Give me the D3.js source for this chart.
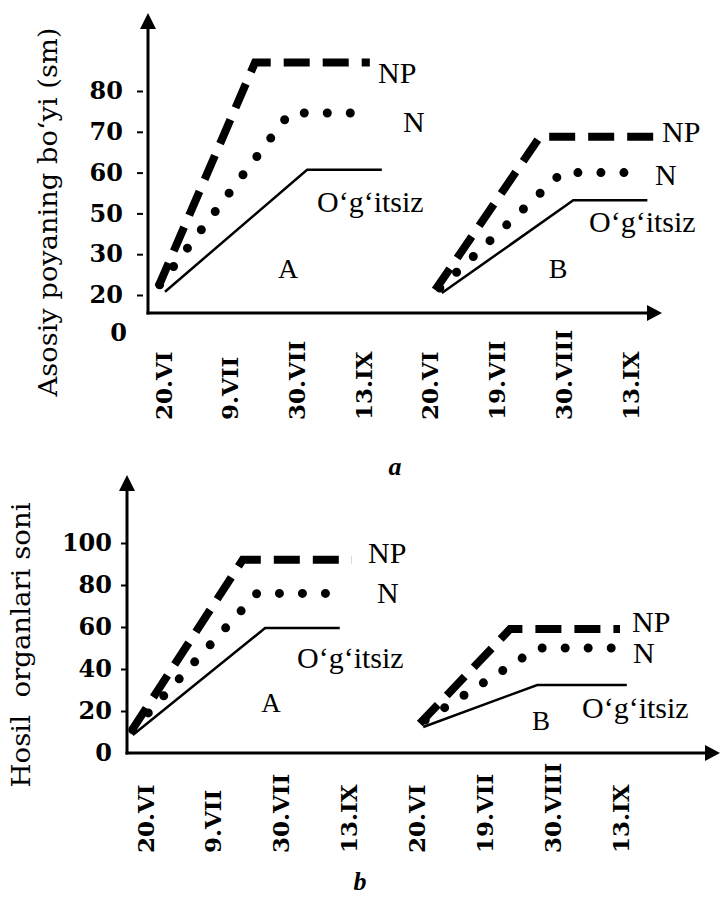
<!DOCTYPE html>
<html>
<head>
<meta charset="utf-8">
<script src="https://cdn.jsdelivr.net/npm/d3@7"></script>
<style>
  body { margin: 0; background: #fff; }
  svg { display: block; }
</style>
</head>
<body>
<div id="chart"></div>
<script>

// dates on the x axis: first four belong to A, last four to B
var datesA = ["20.VI", "9.VII", "30.VII", "13.IX"];
var datesB = ["20.VI", "19.VII", "30.VIII", "13.IX"];

// y tick labels
var heightTicks = [20, 30, 50, 60, 70, 80];
var organTicks = [0, 20, 40, 60, 80, 100];

// a) main stem height (sm); x = position along date axis (0..7)
var heightA_NP = [[-0.07, 22], [1.38, 87], [3.10, 87]];
var heightA_N  = [[-0.05, 22.5], [1.90, 74.6], [3.12, 74.6]];
var heightA_0  = [[0.03, 20.8], [2.16, 60.7], [3.28, 60.7]];
var heightB_NP = [[4.08, 21.2], [5.65, 68.8], [7.35, 68.8]];
var heightB_N  = [[4.15, 21.7], [5.98, 60], [7.18, 60]];
var heightB_0  = [[4.18, 20.5], [6.15, 53.2], [7.26, 53.2]];

// b) number of fruit organs
var organsA_NP = [[-0.19, 11], [1.44, 92], [3.05, 92]];
var organsA_N  = [[-0.18, 11], [1.65, 76], [2.87, 76]];
var organsA_0  = [[-0.18, 8.6], [1.77, 59.5], [2.87, 59.5]];
var organsB_NP = [[4.05, 14], [5.38, 59], [7.00, 59]];
var organsB_N  = [[4.13, 15.7], [5.79, 50], [6.90, 50]];
var organsB_0  = [[4.10, 12.4], [5.78, 32.4], [7.10, 32.4]];

var styleNP = { width: 8, dash: "26,13", cap: "butt" };
var styleN  = { width: 9, dash: "0,23", cap: "round" };
var style0  = { width: 2.5, dash: null, cap: "butt" };

var svg = d3.select("#chart").append("svg")
    .attr("width", 721)
    .attr("height", 898);

var drawPanel = function(p) {

    var g = svg.append("g");
    var x = d3.scaleLinear().domain([0, 7]).range(p.xRange);
    var y = p.y;
    var y0 = y(0);

    var line = d3.line()
        .x(function(d) { return x(d[0]); })
        .y(function(d) { return y(d[1]); });

    /* axis lines with arrows */
    g.append("line")
        .attr("x1", p.axisX).attr("x2", p.axisX)
        .attr("y1", y0 + 1.5).attr("y2", p.arrowTop + 10)
        .attr("stroke", "#000").attr("stroke-width", 3);
    g.append("path")
        .attr("d", "M" + p.axisX + "," + p.arrowTop + " l-8,16 l16,0 z")
        .attr("fill", "#000");
    g.append("line")
        .attr("x1", p.axisX - 1.5).attr("x2", p.arrowRight - 10)
        .attr("y1", y0).attr("y2", y0)
        .attr("stroke", "#000").attr("stroke-width", 3);
    g.append("path")
        .attr("d", "M" + p.arrowRight + "," + y0 + " l-15,-8 l0,16 z")
        .attr("fill", "#000");

    /* y ticks */
    g.append("g")
        .attr("transform", "translate(" + p.tickX + ",0)")
        .call(d3.axisLeft(y).tickValues(p.yTicks).tickSize(6).tickPadding(p.tickPad).tickFormat(d3.format("d")))
        .call(function(a) { a.select(".domain").remove(); })
        .call(function(a) {
            a.selectAll(".tick line")
                .attr("stroke-width", 2)
                .attr("display", function(d) { return d === 0 ? "none" : null; });
        })
        .selectAll("text")
            .attr("font-family", "DejaVu Serif")
            .attr("font-weight", "bold")
            .attr("font-size", 24)
            .attr("fill", "#000");

    /* x date labels, rotated */
    g.append("g")
        .attr("transform", "translate(0," + y0 + ")")
        .call(d3.axisBottom(x).tickValues(d3.range(8)).tickSize(0)
            .tickFormat(function(i) { return datesA.concat(datesB)[i]; }))
        .call(function(a) { a.select(".domain").remove(); })
        .selectAll("text")
            .attr("transform", "rotate(-90)")
            .attr("x", -p.labelDrop)
            .attr("y", 0)
            .attr("dy", "0.35em")
            .style("text-anchor", "start")
            .attr("font-family", "DejaVu Serif")
            .attr("font-weight", "bold")
            .attr("font-size", 23)
            .attr("fill", "#000");

    /* series */
    p.series.forEach(function(s) {
        g.append("path")
            .datum(s.values)
            .attr("d", line)
            .attr("fill", "none")
            .attr("stroke", "#000")
            .attr("stroke-width", s.style.width)
            .attr("stroke-dasharray", s.style.dash)
            .attr("stroke-linecap", s.style.cap)
            .attr("stroke-linejoin", "miter");
    });

    /* labels on the plot */
    g.selectAll(".lbl")
        .data(p.labels)
        .enter().append("text")
            .attr("class", "lbl")
            .attr("x", function(d) { return d.x; })
            .attr("y", function(d) { return d.y; })
            .attr("text-anchor", function(d) { return d.anchor || "start"; })
            .attr("font-family", "Liberation Serif")
            .attr("font-size", function(d) { return d.size || 30; })
            .attr("fill", "#000")
            .text(function(d) { return d.t; });

    /* axis title */
    g.append("text")
        .attr("transform", "translate(" + p.title.x + "," + p.title.y + ") rotate(-90)")
        .attr("text-anchor", "middle")
        .attr("dy", "0.35em")
        .attr("font-family", "DejaVu Serif")
        .attr("font-size", 26)
        .attr("textLength", p.title.len)
        .attr("lengthAdjust", "spacingAndGlyphs")
        .attr("fill", "#000")
        .text(p.title.t);

    /* panel letter */
    g.append("text")
        .attr("x", p.letter.x)
        .attr("y", p.letter.y)
        .attr("text-anchor", "middle")
        .attr("font-family", "Liberation Serif")
        .attr("font-weight", "bold")
        .attr("font-style", "italic")
        .attr("font-size", 26)
        .attr("fill", "#000")
        .text(p.letter.t);
};

/* a) top panel: ticks 20..80 evenly spaced, 30 -> 50 compressed as in the original */
var yHeight = d3.scaleLinear()
    .domain([0].concat(heightTicks))
    .range([313].concat(heightTicks.map(function(d, i) { return 295 - i * 40.8; })));

drawPanel({
    xRange: [163, 630],
    y: yHeight,
    axisX: 148,
    arrowTop: 13,
    arrowRight: 662,
    tickX: 143,
    tickPad: 14,
    yTicks: heightTicks,
    labelDrop: 107,
    series: [
        { values: heightA_0, style: style0 },
        { values: heightA_N, style: styleN },
        { values: heightA_NP, style: styleNP },
        { values: heightB_0, style: style0 },
        { values: heightB_N, style: styleN },
        { values: heightB_NP, style: styleNP }
    ],
    labels: [
        { t: "NP", x: 378, y: 83 },
        { t: "N", x: 403, y: 132 },
        { t: "O\u2018g\u2018itsiz", x: 317, y: 212 },
        { t: "A", x: 288, y: 278, anchor: "middle", size: 28 },
        { t: "NP", x: 662, y: 142 },
        { t: "N", x: 655, y: 185 },
        { t: "O\u2018g\u2018itsiz", x: 589, y: 232 },
        { t: "B", x: 558, y: 278, anchor: "middle", size: 28 }
    ],
    title: { t: "Asosiy poyaning bo\u2018yi (sm)", x: 48, y: 212, len: 369 },
    letter: { t: "a", x: 395, y: 475 }
});

// the lone origin "0" of the top panel
svg.append("text")
    .attr("x", 127)
    .attr("y", 341)
    .attr("text-anchor", "end")
    .attr("font-family", "DejaVu Serif")
    .attr("font-weight", "bold")
    .attr("font-size", 24)
    .text("0");

/* b) bottom panel */
var yOrgans = d3.scaleLinear().domain([0, 100]).range([753, 543]);

drawPanel({
    xRange: [145, 620],
    y: yOrgans,
    axisX: 127,
    arrowTop: 475,
    arrowRight: 720,
    tickX: 127,
    tickPad: 9,
    yTicks: organTicks,
    labelDrop: 100,
    series: [
        { values: organsA_0, style: style0 },
        { values: organsA_N, style: styleN },
        { values: organsA_NP, style: styleNP },
        { values: organsB_0, style: style0 },
        { values: organsB_N, style: styleN },
        { values: organsB_NP, style: styleNP }
    ],
    labels: [
        { t: "NP", x: 368, y: 563 },
        { t: "N", x: 377, y: 603 },
        { t: "O\u2018g\u2018itsiz", x: 297, y: 668 },
        { t: "A", x: 271, y: 712, anchor: "middle", size: 27 },
        { t: "NP", x: 632, y: 632 },
        { t: "N", x: 633, y: 663 },
        { t: "O\u2018g\u2018itsiz", x: 582, y: 718 },
        { t: "B", x: 541, y: 730, anchor: "middle", size: 27 }
    ],
    title: { t: "Hosil\u00A0 organlari soni", x: 21, y: 645, len: 285 },
    letter: { t: "b", x: 360, y: 890 }
});

</script>
</body>
</html>
